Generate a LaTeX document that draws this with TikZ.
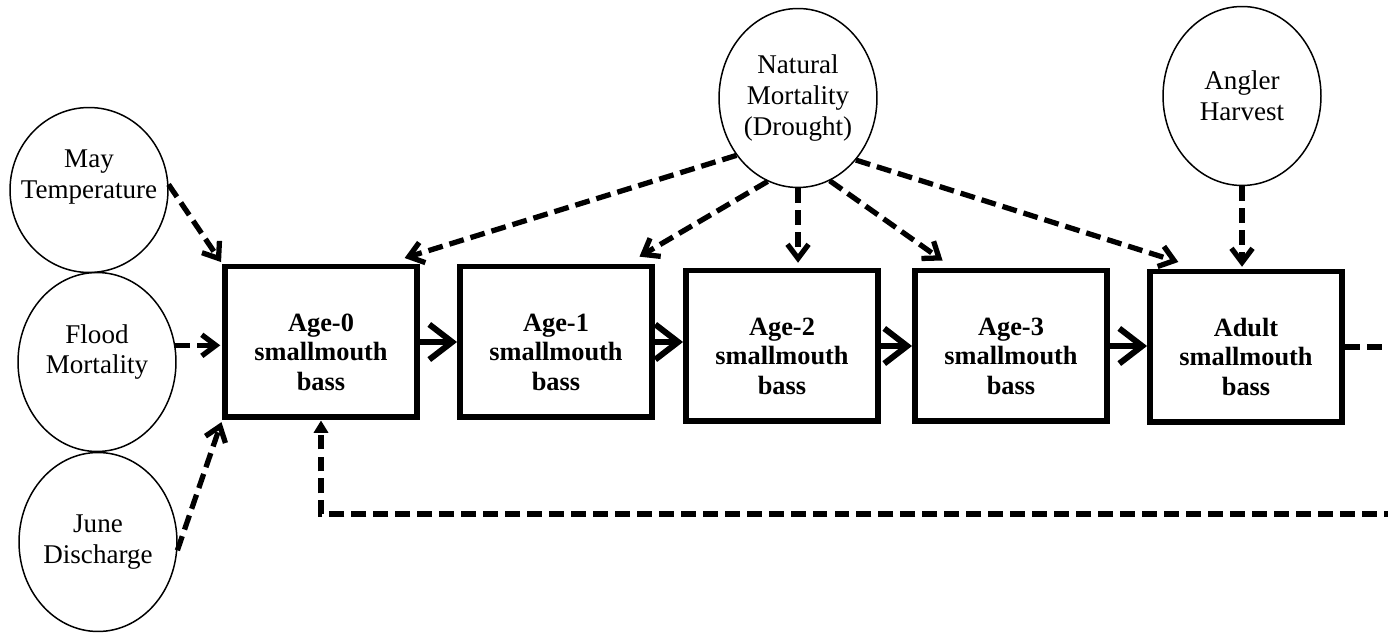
\documentclass[tikz,border=0pt]{standalone}
\usepackage{fontspec}
\setmainfont{Liberation Serif}
\usetikzlibrary{shapes.geometric,arrows.meta}

\begin{document}
\begin{tikzpicture}[x=0.02cm,y=-0.02cm,
    stage/.style={draw, line width=3.4pt, minimum width=3.84cm, minimum height=3.02cm,
        inner sep=0pt, text height=55pt, align=center, font=\fontsize{15}{16.8}\selectfont\bfseries},
    factor/.style={draw, ellipse, line width=0.85pt, minimum width=3.16cm,
        minimum height=3.58cm, inner sep=0pt},
    flabel/.style={align=center, font=\fontsize{15.4}{17.6}\selectfont},
    effect/.style={line width=3pt, dash pattern=on 8.5pt off 4pt, shorten >=1pt,
        -{Straight Barb[length=8pt,width=12pt]}},
    growth/.style={line width=3.4pt, -{Straight Barb[length=13pt,width=20pt]}},
    feedback/.style={line width=3pt, dash pattern=on 8.5pt off 4pt,
        -{Triangle[length=7pt,width=8pt]}}]
    \useasboundingbox (0,0) rectangle (1388,634);
    \clip (0,0) rectangle (1388,634);

    % life stages
    \node[stage] (age0) at (321,342) {Age-0\\smallmouth\\bass};
    \node[stage] (age1) at (556,342) {Age-1\\smallmouth\\bass};
    \node[stage] (age2) at (782,346) {Age-2\\smallmouth\\bass};
    \node[stage] (age3) at (1011,346) {Age-3\\smallmouth\\bass};
    \node[stage] (adult) at (1246,347) {Adult\\smallmouth\\bass};

    % outside factors
    \node[factor, minimum height=3.3cm,
        label={[flabel, yshift=0.26cm]center:May\\Temperature}] (may) at (89,190) {};
    \node[factor, label={[flabel, yshift=0.2cm]center:Flood\\Mortality}] (flood) at (97,362) {};
    \node[factor, label={[flabel]center:June\\Discharge}] (june) at (98,542) {};
    \node[factor, label={[flabel]center:Natural\\Mortality\\(Drought)}] (nat) at (798,98) {};
    \node[factor, label={[flabel]center:Angler\\Harvest}] (angler) at (1242,96) {};

    % growth from stage to stage
    \draw[growth] (age0.east) -- (age0.east -| age1.west);
    \draw[growth] (age1.east) -- (age1.east -| age2.west);
    \draw[growth] (age2.east) -- (age2.east -| age3.west);
    \draw[growth] (age3.east) -- (age3.east -| adult.west);

    \draw[effect] (may.4) -- (age0.north west);
    \draw[effect] (flood.12) -- (flood.12 -| age0.west);
    \draw[effect] (june.354) -- (age0.south west);

    \draw[effect] (nat.223) -- ([shift={(-17,-5)}]age0.north east);
    \draw[effect] (nat.250) -- ([shift={(-17,-6)}]age1.north east);
    \draw[effect] (nat.south) -- ([shift={(16,-3)}]age2.north);
    \draw[effect] (nat.291) -- ([shift={(32,-6)}]age3.north west);
    \draw[effect] (nat.313) -- ([shift={(33,-6)}]adult.north west);
    \draw[effect] (angler.south) -- (angler.south |- adult.north);

    % recruitment back to age-0
    \coordinate (backne) at (1420,347);
    \coordinate (backse) at (1420,514);
    \draw[feedback] (adult.east) -- (backne) -- (backse) -- (age0.south |- backse) -- (age0.south);
\end{tikzpicture}
\end{document}
